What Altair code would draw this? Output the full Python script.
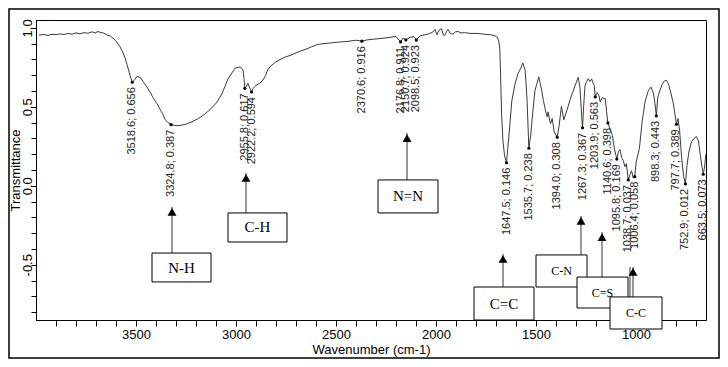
import altair as alt
import pandas as pd

# ---- spectrum ----
wavenumber = [3985, 3960, 3940, 3920, 3900, 3880, 3860, 3840, 3820, 3800, 3780, 3760, 3740, 3720,
              3705, 3690, 3675, 3661, 3645, 3627, 3610, 3594, 3580, 3569, 3555, 3545, 3530, 3518.6,
              3507, 3494, 3477, 3465, 3449, 3430, 3415, 3395, 3380, 3365, 3355, 3340, 3324.8, 3305,
              3286, 3270, 3253, 3220, 3187, 3155, 3121, 3095, 3071, 3055, 3040, 3020, 3006, 2990,
              2981, 2972, 2965, 2960, 2955.8, 2948, 2940, 2932, 2922.2, 2915, 2906, 2895, 2881, 2865,
              2852, 2840, 2825, 2806, 2780, 2756, 2720, 2689, 2650, 2623, 2589, 2540, 2487, 2440,
              2400, 2370.6, 2340, 2300, 2270, 2230, 2200, 2176.8, 2165, 2150.7, 2130, 2110, 2098.5,
              2080, 2055, 2030, 2015, 2005, 1995, 1985, 1973, 1963, 1957, 1948, 1940, 1928, 1915,
              1903, 1890, 1875, 1857, 1830, 1790, 1760, 1723, 1705, 1693, 1686, 1681, 1677, 1672,
              1665, 1657, 1647.5, 1635, 1621, 1605, 1590, 1576, 1566, 1554, 1545, 1535.7, 1526,
              1515, 1505, 1495, 1486, 1472, 1463, 1453, 1444, 1439, 1431, 1427, 1419, 1409, 1394.0,
              1385, 1373, 1361, 1350, 1340, 1329, 1317, 1305, 1289, 1280, 1272, 1267.3, 1262, 1255,
              1247, 1239, 1230, 1222, 1214, 1209, 1203.9, 1195, 1186, 1179, 1168, 1160, 1154, 1147,
              1140.6, 1130, 1118, 1108, 1100, 1095.8, 1088, 1080, 1072, 1064, 1055, 1048, 1038.7,
              1030, 1022, 1014, 1006.4, 999, 983, 969, 954, 938, 925, 912, 905, 898.3, 891, 880,
              870, 862, 850, 839, 826, 815, 806, 797.7, 790, 782, 772, 762, 752.9, 745, 735, 722,
              710, 698, 688, 678, 670, 663.5, 656, 651]
transmittance = [0.955, 0.958, 0.952, 0.960, 0.957, 0.962, 0.958, 0.965, 0.960, 0.968, 0.963, 0.970,
                 0.966, 0.975, 0.968, 0.977, 0.970, 0.967, 0.955, 0.947, 0.930, 0.906, 0.880, 0.853,
                 0.810, 0.768, 0.700, 0.656, 0.672, 0.694, 0.684, 0.660, 0.632, 0.595, 0.558, 0.520,
                 0.485, 0.450, 0.421, 0.400, 0.387, 0.382, 0.381, 0.385, 0.389, 0.405, 0.427, 0.455,
                 0.493, 0.530, 0.581, 0.630, 0.678, 0.715, 0.744, 0.750, 0.753, 0.745, 0.734, 0.680,
                 0.617, 0.630, 0.649, 0.620, 0.594, 0.615, 0.629, 0.640, 0.650, 0.669, 0.700, 0.737,
                 0.760, 0.780, 0.800, 0.814, 0.830, 0.848, 0.865, 0.880, 0.896, 0.903, 0.910, 0.915,
                 0.922, 0.916, 0.925, 0.930, 0.934, 0.940, 0.946, 0.911, 0.935, 0.924, 0.940, 0.945,
                 0.923, 0.950, 0.956, 0.965, 0.975, 0.990, 0.957, 0.985, 0.996, 0.955, 0.950, 0.975,
                 0.990, 0.965, 0.960, 0.975, 0.977, 0.968, 0.970, 0.965, 0.965, 0.960, 0.956, 0.950,
                 0.940, 0.915, 0.870, 0.700, 0.450, 0.280, 0.190, 0.146, 0.323, 0.537, 0.645, 0.710,
                 0.745, 0.778, 0.730, 0.550, 0.238, 0.327, 0.480, 0.605, 0.650, 0.690, 0.607, 0.540,
                 0.479, 0.436, 0.468, 0.410, 0.394, 0.426, 0.341, 0.308, 0.374, 0.503, 0.418, 0.461,
                 0.500, 0.547, 0.590, 0.633, 0.687, 0.620, 0.450, 0.367, 0.500, 0.635, 0.660, 0.678,
                 0.660, 0.677, 0.650, 0.636, 0.563, 0.590, 0.575, 0.531, 0.560, 0.550, 0.553, 0.470,
                 0.398, 0.360, 0.319, 0.234, 0.191, 0.169, 0.215, 0.230, 0.180, 0.160, 0.120, 0.140,
                 0.037, 0.070, 0.095, 0.050, 0.058, 0.151, 0.237, 0.409, 0.538, 0.603, 0.625, 0.582,
                 0.520, 0.443, 0.562, 0.605, 0.640, 0.659, 0.670, 0.649, 0.590, 0.530, 0.460, 0.389,
                 0.426, 0.351, 0.180, 0.060, 0.012, 0.130, 0.220, 0.280, 0.300, 0.312, 0.285, 0.190,
                 0.120, 0.073, 0.130, 0.200]

# ---- labelled peaks ----
peak_wn = [3518.6, 3324.8, 2955.8, 2922.2, 2370.6, 2176.8, 2150.7, 2098.5, 1647.5, 1535.7,
           1394.0, 1267.3, 1203.9, 1140.6, 1095.8, 1038.7, 1006.4, 898.3, 797.7, 752.9, 663.5]
peak_t = [0.656, 0.387, 0.617, 0.594, 0.916, 0.911, 0.924, 0.923, 0.146, 0.238,
          0.308, 0.367, 0.563, 0.398, 0.169, 0.037, 0.058, 0.443, 0.389, 0.012, 0.073]

# ---- functional-group call-outs ----
groups = ["N-H", "C-H", "N=N", "C=C", "C-N", "C=S", "C-C"]
group_left = [3420, 3040, 2290, 1810, 1500, 1295, 1130]
group_right = [3125, 2745, 1990, 1510, 1245, 1040, 870]
group_top = [-0.426, -0.172, 0.037, -0.641, -0.438, -0.578, -0.704]
group_bottom = [-0.609, -0.356, -0.172, -0.85, -0.641, -0.774, -0.907]
arrow_wn = [3320, 2950, 2145, 1665, 1275, 1170, 1015]
arrow_tip = [-0.134, 0.081, 0.334, -0.432, -0.191, -0.293, -0.514]

# ---- axes ----
x_ticks = [700, 800, 900, 1000, 1100, 1200, 1300, 1400, 1500, 1600, 1700, 1800, 1900, 2000,
           2100, 2200, 2300, 2400, 2500, 2600, 2700, 2800, 2900, 3000, 3100, 3200, 3300, 3400,
           3500, 3600, 3700, 3800, 3900]
x_labels = [1000, 1500, 2000, 2500, 3000, 3500]
y_ticks = [-0.8, -0.7, -0.6, -0.5, -0.4, -0.3, -0.2, -0.1, 0.0, 0.1, 0.2, 0.3, 0.4, 0.5,
           0.6, 0.7, 0.8, 0.9, 1.0]
y_labels = [-0.5, 0.0, 0.5, 1.0]

spec = pd.DataFrame({"wn": wavenumber, "t": transmittance})
peaks = pd.DataFrame({"wn": peak_wn, "t": peak_t})
peaks["label"] = [f"{w:.1f}; {v:.3f}" for w, v in zip(peak_wn, peak_t)]
ann = pd.DataFrame({"group": groups, "left": group_left, "right": group_right,
                    "top": group_top, "bottom": group_bottom,
                    "ax": arrow_wn, "tip": arrow_tip})
ann["cx"] = (ann["left"] + ann["right"]) / 2
ann["cy"] = (ann["top"] + ann["bottom"]) / 2

SANS = "Liberation Sans"
SERIF = "Liberation Serif"

xs = alt.Scale(domain=[4000, 650], nice=False, zero=False)
ys = alt.Scale(domain=[-0.85, 1.05], nice=False, zero=False)

x_label_list = ",".join(str(v) for v in x_labels)
y_label_list = ",".join(str(v) for v in y_labels)

x_axis = alt.Axis(values=x_ticks, title="Wavenumber (cm-1)",
                  labelExpr=f"indexof([{x_label_list}], datum.value) >= 0 ? toString(datum.value) : ''",
                  tickSize=6, labelPadding=2, labelFontSize=13, labelFont=SANS,
                  labelColor="black", titleFont=SANS, titleFontSize=13,
                  titleFontWeight="normal", titleColor="black", titlePadding=2,
                  domainColor="black", tickColor="black", grid=False,
                  labelFlush=False, labelOverlap=False)
y_axis = alt.Axis(values=y_ticks, title="Transmittance",
                  labelExpr=f"indexof([{y_label_list}], round(datum.value*10)/10) >= 0 ? replace(format(datum.value, '.1f'), '\u2212', '-') : ''",
                  tickSize=5, labelPadding=4, labelFontSize=13, labelFont=SANS,
                  labelColor="black", labelAngle=270, labelAlign="center",
                  labelBaseline="middle", titleFont=SANS, titleFontSize=13,
                  titleFontWeight="normal", titleColor="black", titleAngle=270,
                  titleX=-21, titleY=150, titleAlign="center", titleBaseline="middle",
                  domainColor="black", tickColor="black", grid=False,
                  labelFlush=False, labelOverlap=False)


def X(field):
    return alt.X(field, type="quantitative", scale=xs, axis=x_axis)


def Y(field):
    return alt.Y(field, type="quantitative", scale=ys, axis=y_axis)


line = alt.Chart(spec).mark_line(color="#3a3a3a", strokeWidth=1).encode(x=X("wn"), y=Y("t"))

dots = alt.Chart(peaks).mark_circle(size=10, color="black", opacity=1).encode(x=X("wn"), y=Y("t"))

peak_text = alt.Chart(peaks).mark_text(angle=270, align="right", baseline="middle", dx=-5,
                                       fontSize=11, font=SANS, color="#222").encode(
    x=X("wn"), y=Y("t"), text="label:N")

arrows = alt.Chart(ann).mark_rule(color="#333", strokeWidth=1).encode(
    x=X("ax"), y=Y("top"), y2="tip:Q")

arrow2 = alt.Chart(ann).transform_filter(alt.datum.group == "C-C").mark_rule(
    color="#333", strokeWidth=1, xOffset=-3).encode(x=X("ax"), y=Y("top"), y2="tip:Q")

heads = alt.Chart(ann).mark_point(shape="triangle-up", filled=True, size=80, color="black",
                                  opacity=1, yOffset=5).encode(x=X("ax"), y=Y("tip"))

boxes = alt.Chart(ann).mark_rect(fill="white", stroke="black", strokeWidth=1).encode(
    x=X("left"), x2="right:Q", y=Y("top"), y2="bottom:Q")

big = ["N-H", "C-H", "N=N", "C=C"]
box_text = alt.Chart(ann).mark_text(font=SERIF, color="black", baseline="middle",
                                    align="center").encode(
    x=X("cx"), y=Y("cy"), text="group:N",
    size=alt.condition(alt.FieldOneOfPredicate(field="group", oneOf=big),
                       alt.value(15), alt.value(12)))

frame = alt.Chart(alt.Data(values=[{}])).mark_rect(filled=False, stroke="black",
                                                    strokeWidth=1.5).encode(
    x=alt.value(-27), x2=alt.value(683), y=alt.value(-11), y2=alt.value(338))

chart = alt.layer(line, dots, peak_text, arrows, arrow2, heads, boxes, box_text, frame).properties(
    width=670, height=300,
    padding={"left": 28, "top": 12, "right": 14, "bottom": 39},
    autosize=alt.AutoSizeParams(type="none"),
    background="white",
).configure_view(stroke="black", strokeWidth=1)

chart.save("out.html", embed_options={"renderer": "svg", "actions": False})
